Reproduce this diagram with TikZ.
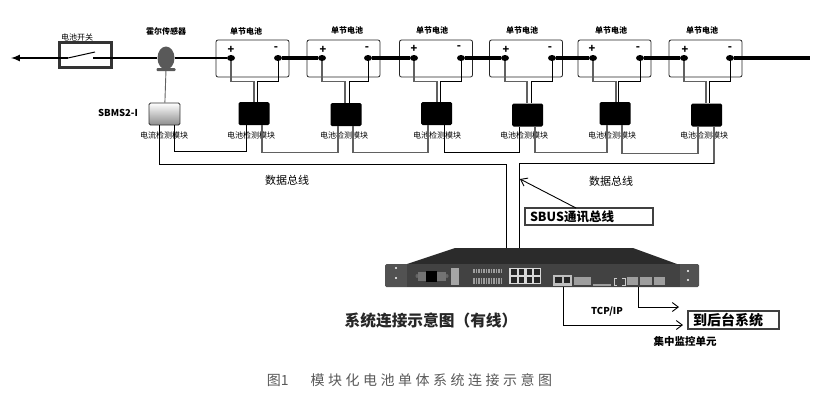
\documentclass[tikz,border=0pt]{standalone}
\usepackage{fontspec}
\setmainfont{Noto Sans CJK SC}
\usetikzlibrary{arrows,arrows.meta,positioning}
\usetikzlibrary{shapes.geometric}
\definecolor{wiregray}{gray}{0.38}
\definecolor{rackfront}{gray}{0.32}
\definecolor{racktop}{gray}{0.17}
\definecolor{rackpart}{gray}{0.62}
\newcommand{\Sz}[1]{\fontsize{#1}{#1}\selectfont}
\tikzset{
  cell/.style={rectangle,draw=black!85,line width=0.8pt,rounded corners=2pt,minimum width=73,minimum height=37,inner sep=0},
  pole/.style={ellipse,fill=black,minimum width=8,minimum height=6,inner sep=0},
  sensemod/.style={rectangle,fill=black,rounded corners=1.5pt,minimum width=31,minimum height=23,inner sep=0},
  tiny/.style={inner sep=0,font=\Sz{8}},
  tinyb/.style={inner sep=0,font=\Sz{8}\bfseries},
  sign/.style={inner sep=0,font=\Sz{11}\bfseries},
  busline/.style={line width=0.9pt,draw=black},
  greyline/.style={line width=1.3pt,draw=wiregray},
  openarrow/.style={-{Straight Barb[length=6pt,width=9pt]},line width=0.9pt},
  outbox/.style={rectangle,draw=black!75,line width=1.1pt,inner sep=0}
}
\begin{document}
\begin{tikzpicture}[x=1pt,y=-1pt]
\useasboundingbox (0,0) rectangle (826,400);
% switch and hall sensor
\coordinate (tipl) at (11,58);
\coordinate (swa) at (68,58);
\coordinate (swb) at (95,52);
\coordinate (swc) at (93,58);
\coordinate (endr) at (810,58);
\node (sw) [rectangle,draw=black!80,line width=2.4pt,minimum width=52,minimum height=25,inner sep=0] at (85.5,55) {};
\node (swlab) [tiny] at (77,37) {电池开关};
\node (hall) [ellipse,fill=black!65,minimum width=17,minimum height=23,inner sep=0] at (166,58) {};
\node (hallb) [rectangle,rounded corners=1pt,fill=black!65,minimum width=19,minimum height=3,inner sep=0] at (166,69.5) {};
\node (halllab) [tinyb] at (166,31) {霍尔传感器};
% cells
\node (b1) [cell] at (252.5,58.5) {};
\node (b2) [cell] at (343.5,58.5) {};
\node (b3) [cell] at (436,58.5) {};
\node (b4) [cell] at (526,58.5) {};
\node (b5) [cell] at (614.5,58.5) {};
\node (b6) [cell] at (705.5,58.5) {};
\node (blab1) [tinyb] at (246,31) {单节电池};
\node (blab2) [tinyb] at (347,30) {单节电池};
\node (blab3) [tinyb] at (432,30) {单节电池};
\node (blab4) [tinyb] at (522,30) {单节电池};
\node (blab5) [tinyb] at (611,30) {单节电池};
\node (blab6) [tinyb] at (702,30) {单节电池};
\node (p1) [pole] at (231,58) {};
\node (n1) [pole] at (278,58) {};
\node (p2) [pole] at (322,58) {};
\node (n2) [pole] at (368,58) {};
\node (p3) [pole] at (414,58) {};
\node (n3) [pole] at (461,58) {};
\node (p4) [pole] at (505,58) {};
\node (n4) [pole] at (552,58) {};
\node (p5) [pole] at (593,58) {};
\node (n5) [pole] at (640,58) {};
\node (p6) [pole] at (684,58) {};
\node (n6) [pole] at (730,58) {};
\node (ps1) [sign] at (231,50) {+};
\node (ms1) [sign] at (276,49) {-};
\node (ps2) [sign] at (323,50) {+};
\node (ms2) [sign] at (367,49) {-};
\node (ps3) [sign] at (414,49) {+};
\node (ms3) [sign] at (459,48) {-};
\node (ps4) [sign] at (506,50) {+};
\node (ms4) [sign] at (550,49) {-};
\node (ps5) [sign] at (592,49) {+};
\node (ms5) [sign] at (638,49) {-};
\node (ps6) [sign] at (685,50) {+};
\node (ms6) [sign] at (730,49) {-};
% modules
\node (cur) [rectangle,draw=black!80,line width=0.8pt,rounded corners=1.5pt,top color=white,bottom color=black!45,minimum width=31,minimum height=22,inner sep=0] at (164.5,114) {};
\node (curname) [inner sep=0,font=\Sz{9.5}\bfseries] at (118,113) {SBMS2-I};
\node (m1) [sensemod] at (254,113.5) {};
\node (m2) [sensemod] at (346,114.5) {};
\node (m3) [sensemod] at (436.5,113.5) {};
\node (m4) [sensemod] at (527.5,115) {};
\node (m5) [sensemod] at (615,113.5) {};
\node (m6) [sensemod] at (706.5,115) {};
\node (curlab) [tiny] at (164,135) {电流检测模块};
\node (mlab1) [tiny] at (251,135) {电池检测模块};
\node (mlab2) [tiny] at (344,135) {电池检测模块};
\node (mlab3) [tiny] at (437,135) {电池检测模块};
\node (mlab4) [tiny] at (524,135) {电池检测模块};
\node (mlab5) [tiny] at (612,135) {电池检测模块};
\node (mlab6) [tiny] at (704,135) {电池检测模块};
% main line
\path[->,>=latex,line width=2pt](swa) edge (tipl);
\draw[line width=1pt] (swa) -- (swb);
\draw[line width=2pt] (swc) -- (hall);
\draw[line width=2pt] (hall) -- (p1);
\draw[line width=3.6pt] (n1) -- (p2);
\draw[line width=3.6pt] (n2) -- (p3);
\draw[line width=3.6pt] (n3) -- (p4);
\draw[line width=3.6pt] (n4) -- (p5);
\draw[line width=3.6pt] (n5) -- (p6);
\draw[line width=3.6pt] (n6) -- (endr);
\draw[line width=0.9pt,draw=wiregray] (hallb) -- (cur);
% cell to module
\draw[greyline] (p1.south) -- ++(0,20) -| ([xshift=0pt]m1.north);
\draw[busline] (n1.south) -- ++(0,20) -| ([xshift=3pt]m1.north);
\draw[greyline] (p2.south) -- ++(0,20) -| ([xshift=-1pt]m2.north);
\draw[busline] (n2.south) -- ++(0,20) -| ([xshift=3pt]m2.north);
\draw[greyline] (p3.south) -- ++(0,20) -| ([xshift=0.5pt]m3.north);
\draw[busline] (n3.south) -- ++(0,20) -| ([xshift=3.5pt]m3.north);
\draw[greyline] (p4.south) -- ++(0,20) -| ([xshift=-0.5pt]m4.north);
\draw[busline] (n4.south) -- ++(0,20) -| ([xshift=3.5pt]m4.north);
\draw[greyline] (p5.south) -- ++(0,20) -| ([xshift=1pt]m5.north);
\draw[busline] (n5.south) -- ++(0,20) -| ([xshift=3pt]m5.north);
\draw[greyline] (p6.south) -- ++(0,20) -| ([xshift=-0.5pt]m6.north);
\draw[busline] (n6.south) -- ++(0,20) -| ([xshift=2.5pt]m6.north);
% module chain
\draw[busline] ([xshift=9.5pt]cur.south) -- ++(0,26) -| ([xshift=-8pt]m1.south);
\draw[greyline] ([xshift=8pt]m1.south) -- ++(0,27) -| ([xshift=-8pt]m2.south);
\draw[greyline] ([xshift=7pt]m2.south) -- ++(0,26) -| ([xshift=-8.5pt]m3.south);
\draw[busline] ([xshift=7.5pt]m3.south) -- ++(0,27) -| ([xshift=-8.5pt]m4.south);
\draw[greyline] ([xshift=7.5pt]m4.south) -- ++(0,26) -| ([xshift=-8pt]m5.south);
\draw[greyline] ([xshift=7pt]m5.south) -- ++(0,28) -| ([xshift=-8.5pt]m6.south);
% rack
\fill[racktop] (407,264) -- (455,248) -- (633,248) -- (677,264) -- cycle;
\node (rack) [rectangle,fill=rackfront,rounded corners=1.5pt,minimum width=314,minimum height=23,inner sep=0] at (542,275.5) {};
\fill[black!74] (407,264) rectangle (680,287);
\fill[white] (396,268) circle (1.2);
\fill[white] (396,278) circle (1.2);
\fill[white] (688,271) circle (1.2);
\fill[white] (688,280) circle (1.2);
\fill[black!60] (417,276) ellipse (1.5 and 2);
\fill[black!60] (447,276) ellipse (1.5 and 2);
\fill[black!55] (418,272) rectangle (446,281);
\fill[black] (426,271) rectangle (437,282);
\fill[black!35] (451,268) rectangle (459,285);
\draw[rackpart,line width=4pt,dash pattern=on 1.5pt off 1pt] (473,271) -- (501,271);
\draw[rackpart,line width=6pt,dash pattern=on 1.5pt off 1pt] (473,281) -- (501,281);
\fill[white!85!black] (509,268) rectangle (541,284);
\draw[black!85,line width=5.5pt,dash pattern=on 5.5pt off 2.3pt] (511,272) -- (541,272);
\draw[black!85,line width=5.5pt,dash pattern=on 5.5pt off 2.3pt] (511,280) -- (541,280);
\fill[white!75!black] (553,275) rectangle (572,286);
\fill[black!85] (555,277) rectangle (562,283);
\fill[black!85] (564,277) rectangle (570,283);
\fill[rackpart] (574,277) rectangle (591,285);
\fill[rackpart] (593,284) rectangle (611,286);
\draw[white!80!black,line width=0.8pt] (617,278) -- (614,278) -- (614,285) -- (617,285);
\draw[white!80!black,line width=0.8pt] (622,278) -- (625,278) -- (625,285) -- (622,285);
\fill[rackpart] (627,277) rectangle (638,285);
\fill[rackpart] (640,277) rectangle (652,285);
\fill[rackpart] (654,277) rectangle (665,285);
% bus
\coordinate (bus1) at (506,248);
\coordinate (bus2) at (519,248);
\coordinate (arrtip) at (520,179);
\coordinate (lan1) at (563,287);
\coordinate (lan2) at (638,287);
\draw[busline] ([xshift=-5.5pt]cur.south) -- ++(0,39) -| (bus1);
\draw[greyline] ([xshift=7.5pt]m6.south) -- ++(0,37) coordinate (busr);
\draw[busline] (busr) -| (bus2);
\node (buslab1) [inner sep=0,font=\Sz{11}] at (287,180) {数据总线};
\node (buslab2) [inner sep=0,font=\Sz{11}] at (611,181) {数据总线};
\node (sbus) [outbox,minimum width=128,minimum height=17,text width=118,align=left,font=\Sz{12.5}\bfseries] at (589,216.5) {SBUS通讯总线};
\coordinate (sbustop) at (576,208);
\path[openarrow](sbustop) edge (arrtip);
% output
\node (back) [outbox,minimum width=91,minimum height=18,text width=81,align=left,font=\Sz{14}\bfseries] at (733.5,320) {到后台系统};
\coordinate (upin) at (679,307);
\coordinate (lowin) at (683,325);
\draw[openarrow] (lan2) |- (upin);
\draw[openarrow] (lan1) |- (lowin);
\node (tcp) [inner sep=0,font=\Sz{9.5}\bfseries] at (607,311) {TCP/IP};
\node (unit) [inner sep=0,font=\Sz{10.5}\bfseries] at (685,341) {集中监控单元};
\node (title) [inner sep=0,font=\Sz{15.7}\bfseries,text=black!85] at (431,321) {系统连接示意图（有线）};
\node (fig) [inner sep=0,font=\Sz{14},text=black!65] at (409.5,380) {图1\hspace{22pt}\addfontfeature{LetterSpace=25}模块化电池单体系统连接示意图};
\end{tikzpicture}
\end{document}
